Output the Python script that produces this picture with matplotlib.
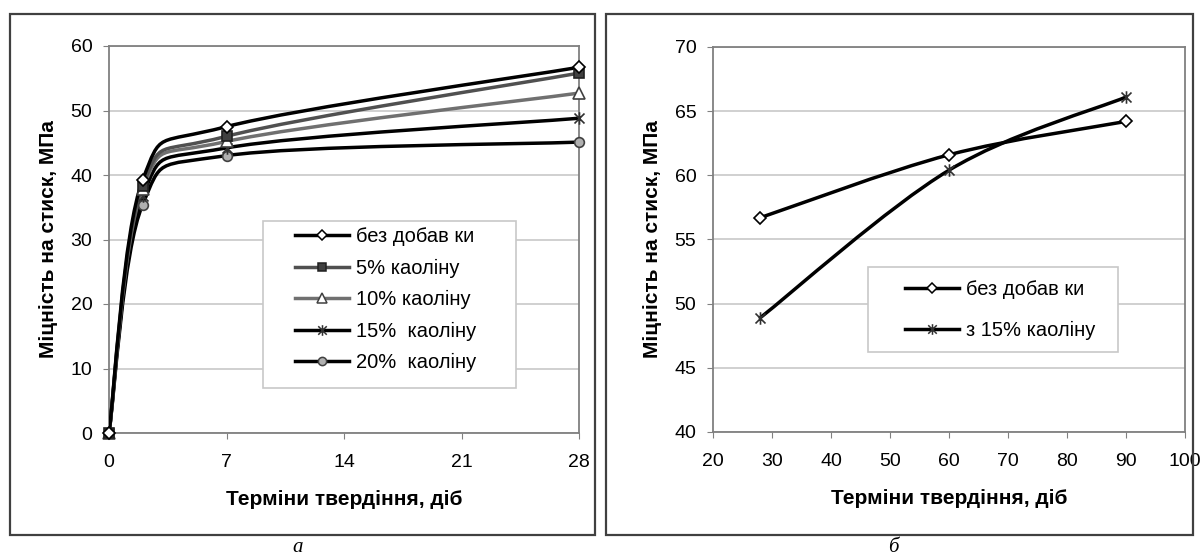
import matplotlib
matplotlib.use("Agg")
import matplotlib.pyplot as plt
from matplotlib.path import Path
from matplotlib.patches import PathPatch, Rectangle
from matplotlib.lines import Line2D

plt.rcParams['font.family'] = ['Liberation Sans', 'DejaVu Sans']

# --- data, panel a ---
days_a = [0, 2, 7, 28]
no_additive_a = [0, 39.2, 47.5, 56.7]
kaolin_5 = [0, 38.3, 46.0, 55.8]
kaolin_10 = [0, 37.8, 45.2, 52.7]
kaolin_15 = [0, 36.7, 44.2, 48.8]
kaolin_20 = [0, 35.4, 43.0, 45.1]
labels_a = ["без добав ки", "5% каоліну", "10% каоліну", "15%  каоліну", "20%  каоліну"]

# --- data, panel b ---
days_b = [28, 60, 90]
no_additive_b = [56.7, 61.6, 64.2]
kaolin_15_b = [48.9, 60.4, 66.1]
labels_b = ["без добав ки", "з 15% каоліну"]

YLABEL = "Міцність на стиск, МПа"
XLABEL = "Терміни твердіння, діб"

# "ж"-like marker: vertical bar + X
ZHE = Path([(0, -1), (0, 1), (-0.8, -0.8), (0.8, 0.8), (-0.8, 0.8), (0.8, -0.8)],
           [Path.MOVETO, Path.LINETO] * 3)

styles_a = [
    dict(color="black", marker="D", mfc="white", mec="black", ms=6),
    dict(color="#505050", marker="s", mfc="#404040", mec="#202020", ms=7),
    dict(color="#707070", marker="^", mfc="white", mec="#404040", ms=8),
    dict(color="black", marker=ZHE, mfc="none", mec="#303030", ms=9),
    dict(color="black", marker="o", mfc="#b0b0b0", mec="#404040", ms=7),
]
styles_b = [styles_a[0], styles_a[3]]

FS_TICK = 14
FS_LABEL = 15
FS_LEG = 14.5


def smooth_path(x, y):
    # Excel-like smoothed line: Catmull-Rom as cubic Bezier segments
    pts = list(zip(x, y))
    n = len(pts)
    verts = [pts[0]]
    codes = [Path.MOVETO]
    for i in range(n - 1):
        p0 = pts[i - 1] if i > 0 else pts[i]
        p1 = pts[i]
        p2 = pts[i + 1]
        p3 = pts[i + 2] if i + 2 < n else pts[i + 1]
        c1 = (p1[0] + (p2[0] - p0[0]) / 6, p1[1] + (p2[1] - p0[1]) / 6)
        c2 = (p2[0] - (p3[0] - p1[0]) / 6, p2[1] - (p3[1] - p1[1]) / 6)
        verts += [c1, c2, p2]
        codes += [Path.CURVE4] * 3
    return Path(verts, codes)


def draw_series(ax, x, y, st, lw=2.5):
    ax.add_patch(PathPatch(smooth_path(x, y), fill=False, ec=st["color"],
                           lw=lw, capstyle="round", joinstyle="round", zorder=3))
    ax.plot(x, y, ls="none", marker=st["marker"], mfc=st["mfc"], mec=st["mec"],
            ms=st["ms"], mew=1.2, zorder=4, clip_on=False)


def handle(st):
    return Line2D([], [], color=st["color"], lw=2.5, marker=st["marker"],
                  mfc=st["mfc"], mec=st["mec"], ms=st["ms"] * 0.85, mew=1.1)


def style_axes(ax):
    for sp in ax.spines.values():
        sp.set_color("#808080")
        sp.set_linewidth(1.3)
    ax.yaxis.grid(True, color="#c8c8c8", lw=1.2)
    ax.set_axisbelow(True)
    ax.tick_params(axis="both", direction="out", length=4, color="#808080",
                   labelsize=FS_TICK)
    ax.tick_params(axis="x", pad=11)
    ax.tick_params(axis="y", pad=8)
    ax.set_ylabel(YLABEL, fontsize=FS_LABEL, fontweight="bold", labelpad=9)
    ax.set_xlabel(XLABEL, fontsize=FS_LABEL, fontweight="bold", labelpad=14)


def boxed_legend(ax, handles, labels, box, anchor, spacing):
    ax.add_patch(Rectangle(box[:2], box[2], box[3], transform=ax.transAxes,
                           fill=True, fc="white", ec="#c8c8c8", lw=1.2, zorder=5))
    leg = ax.legend(handles, labels, loc="upper left", bbox_to_anchor=anchor,
                    fontsize=FS_LEG, frameon=False, handlelength=2.7,
                    handletextpad=0.3, labelspacing=spacing, borderpad=0,
                    borderaxespad=0)
    leg.set_zorder(6)


fig = plt.figure(figsize=(12.01, 5.6), dpi=100)

# outer frames
fig.add_artist(Rectangle((10 / 1201, 1 - 535 / 560), 585 / 1201, 521 / 560,
                         transform=fig.transFigure, fill=False, ec="#404040", lw=1.6))
fig.add_artist(Rectangle((606 / 1201, 1 - 535 / 560), 587 / 1201, 521 / 560,
                         transform=fig.transFigure, fill=False, ec="#404040", lw=1.6))

# panel a
ax1 = fig.add_axes([109 / 1201, 1 - 433 / 560, 470 / 1201, 387 / 560])
series_a = [no_additive_a, kaolin_5, kaolin_10, kaolin_15, kaolin_20]
for vals, st in zip(series_a[::-1], styles_a[::-1]):
    draw_series(ax1, days_a, vals, st)
ax1.set_xlim(0, 28)
ax1.set_ylim(0, 60)
ax1.set_xticks([0, 7, 14, 21, 28])
ax1.set_yticks(range(0, 61, 10))
style_axes(ax1)
boxed_legend(ax1, [handle(s) for s in styles_a], labels_a,
             (0.328, 0.116, 0.538, 0.432), (0.396, 0.532), 0.62)

# panel b
ax2 = fig.add_axes([713 / 1201, 1 - 432 / 560, 472 / 1201, 385 / 560])
for vals, st in zip([no_additive_b, kaolin_15_b], styles_b):
    draw_series(ax2, days_b, vals, st)
ax2.set_xlim(20, 100)
ax2.set_ylim(40, 70)
ax2.set_xticks(range(20, 101, 10))
ax2.set_yticks(range(40, 71, 5))
style_axes(ax2)
boxed_legend(ax2, [handle(s) for s in styles_b], labels_b,
             (0.328, 0.208, 0.530, 0.221), (0.407, 0.395), 1.1)

fig.text(298 / 1201, 1 - 548 / 560, "а", fontsize=15, style="italic",
         family="Liberation Serif", ha="center", va="center")
fig.text(893 / 1201, 1 - 548 / 560, "б", fontsize=15, style="italic",
         family="Liberation Serif", ha="center", va="center")

fig.savefig("out.png", dpi=100)
